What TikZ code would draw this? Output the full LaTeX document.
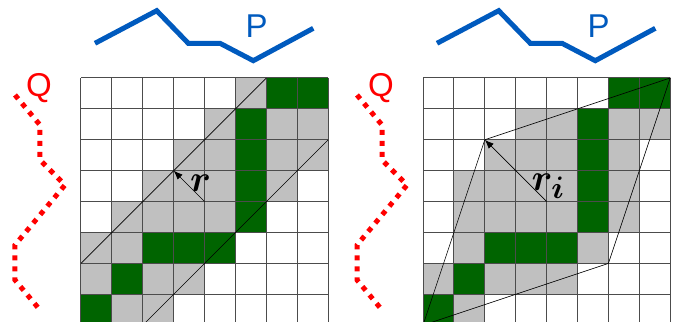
\documentclass[tikz,border=0pt]{standalone}
\usepackage{fontspec}
\setmainfont{Liberation Sans}
\usetikzlibrary{arrows.meta}

\definecolor{pblue}{RGB}{0,90,190}
\definecolor{cellgreen}{RGB}{0,100,0}
\definecolor{cellgray}{RGB}{192,192,192}

\tikzset{
  graycell/.style={fill=cellgray},
  greencell/.style={fill=cellgreen},
  gridline/.style={draw=black!70, line width=1pt},
  pline/.style={draw=pblue, line width=5pt},
  qline/.style={draw=red, line width=5pt, dash pattern=on 5pt off 6pt},
  bandline/.style={draw=black, line width=0.6pt},
  radarrow/.style={-{Latex[length=9pt,width=7pt]}, line width=0.7pt},
  seqlabel/.style={font=\fontsize{33}{33}\selectfont, inner sep=0pt},
  radlabel/.style={font=\fontsize{24.88}{25}\selectfont\boldmath, scale=1.5, inner sep=0pt},
}

\begin{document}
\begin{tikzpicture}[x=30.9pt, y=-30.9pt]
\useasboundingbox (-2.621,-2.524) rectangle (19.32,7.896);

% left: band of width r
\begin{scope}
\foreach \c/\r in {5/0,4/1,6/1,7/1,3/2,4/2,6/2,7/2,2/3,3/3,4/3,6/3,1/4,2/4,3/4,4/4,0/5,1/5,0/6,2/6,3/6,1/7,2/7}
  \fill[graycell] (\c,\r) rectangle ++(1,1);
\foreach \c/\r in {6/0,7/0,5/1,5/2,5/3,5/4,2/5,3/5,4/5,1/6,0/7}
  \fill[greencell] (\c,\r) rectangle ++(1,1);
\foreach \i in {0,...,8} {
  \draw[gridline] (\i,0) -- (\i,8);
  \draw[gridline] (0,\i) -- (8,\i);
}
\draw[bandline] (0,6) -- (6,0);
\draw[bandline] (2,8) -- (8,2);
\coordinate (ctrL) at (4,4);
\coordinate (tipL) at (3,3);
\draw[radarrow] (ctrL) -- (tipL);
\node[radlabel] (rL) at (3.87,3.42) {$r$};

\draw[pline] (0.453,-1.123) -- (2.450,-2.178) -- (3.472,-1.123) -- (4.498,-1.123) -- (5.576,-0.560) -- (7.518,-1.608);
\node[seqlabel, text=pblue] (pL) at (5.68,-1.667) {P};
\draw[qline] (-2.136,0.55) -- (-1.327,1.521) -- (-1.327,2.654) -- (-0.518,3.463) -- (-2.136,5.405) -- (-2.136,6.537) -- (-1.327,7.508);
\node[seqlabel, text=red] (qL) at (-1.36,0.32) {Q};
\end{scope}

% right: parallelogram band
\begin{scope}[xshift=342pt]
\foreach \c/\r in {3/1,4/1,6/1,7/1,2/2,3/2,4/2,6/2,1/3,2/3,3/3,4/3,6/3,1/4,2/4,3/4,4/4,6/4,1/5,5/5,0/6,2/6,3/6,4/6,1/7}
  \fill[graycell] (\c,\r) rectangle ++(1,1);
\foreach \c/\r in {6/0,7/0,5/1,5/2,5/3,5/4,2/5,3/5,4/5,1/6,0/7}
  \fill[greencell] (\c,\r) rectangle ++(1,1);
\foreach \i in {0,...,8} {
  \draw[gridline] (\i,0) -- (\i,8);
  \draw[gridline] (0,\i) -- (8,\i);
}
\draw[bandline] (0,8) -- (2,2) -- (8,0) -- (6,6) -- cycle;
\coordinate (ctrR) at (4,4);
\coordinate (tipR) at (2,2);
\draw[radarrow] (ctrR) -- (tipR);
\node[radlabel] (rR) at (4.05,3.5) {$r_i$};

\draw[pline] (0.453,-1.123) -- (2.450,-2.178) -- (3.472,-1.123) -- (4.498,-1.123) -- (5.576,-0.560) -- (7.518,-1.608);
\node[seqlabel, text=pblue] (pR) at (5.68,-1.667) {P};
\draw[qline] (-2.136,0.55) -- (-1.327,1.521) -- (-1.327,2.654) -- (-0.518,3.463) -- (-2.136,5.405) -- (-2.136,6.537) -- (-1.327,7.508);
\node[seqlabel, text=red] (qR) at (-1.36,0.32) {Q};
\end{scope}
\end{tikzpicture}
\end{document}
